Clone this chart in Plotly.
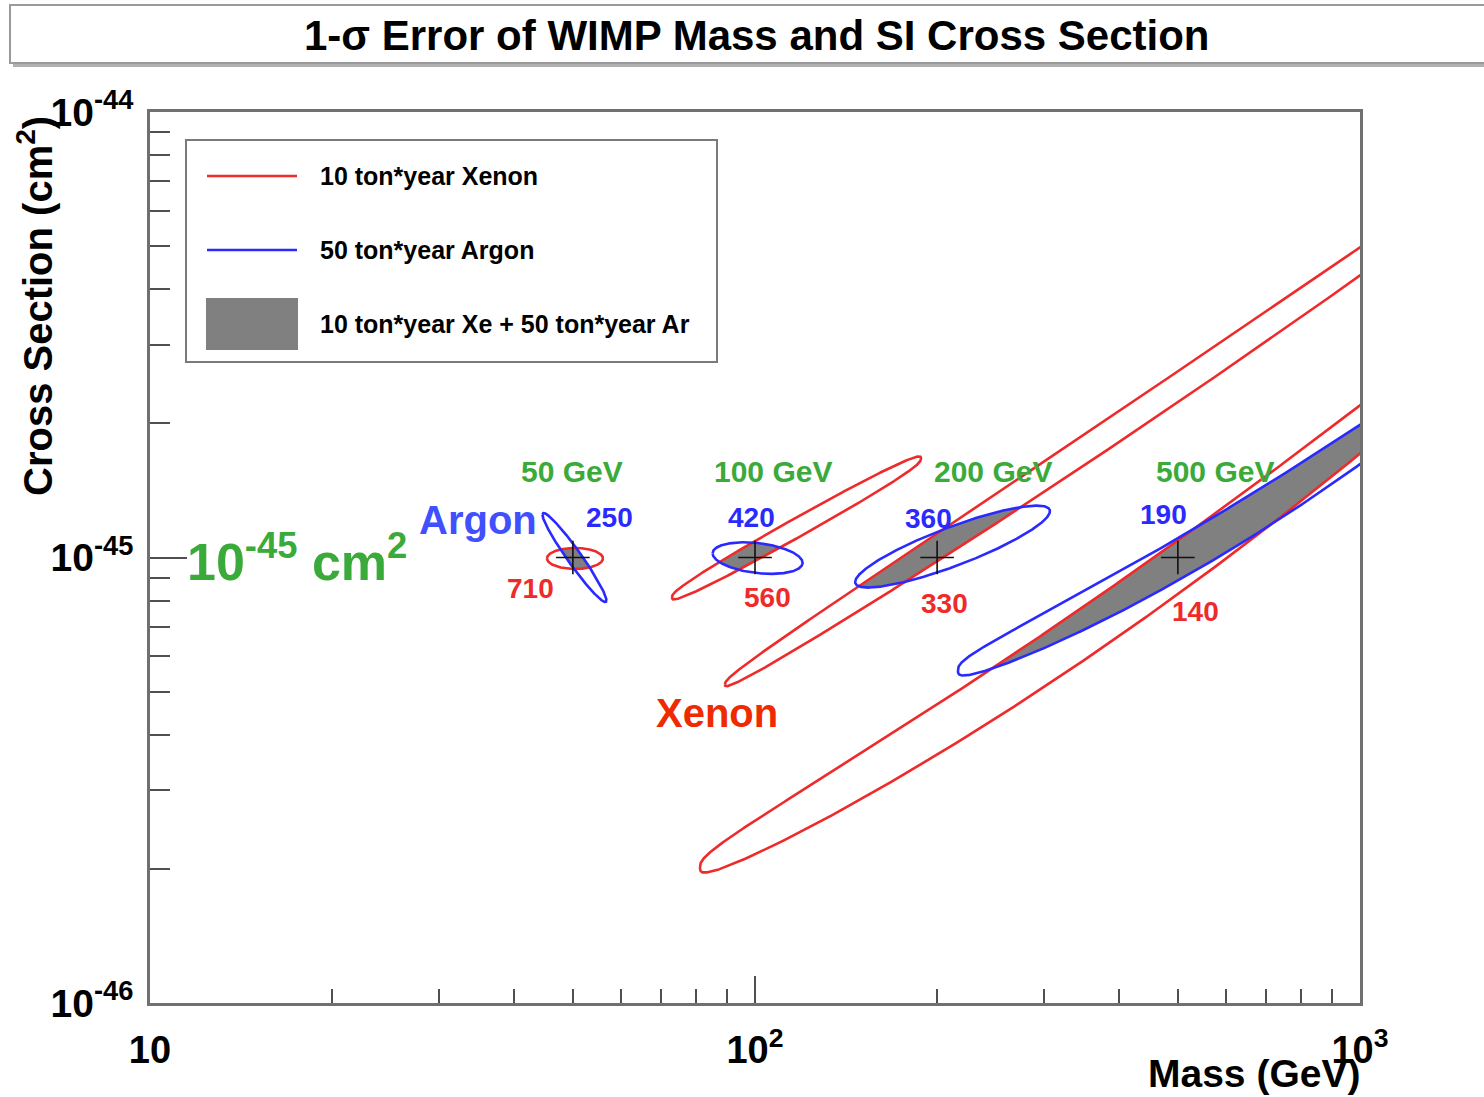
import numpy as np
import plotly.graph_objects as go

# ---------------------------------------------------------------------------
# Benchmark WIMP points: mass (GeV) and spin-independent cross section (cm^2)
true_mass = [50, 100, 200, 500]
true_xsec = [1e-45, 1e-45, 1e-45, 1e-45]

# 1-sigma contours, described in log10 space by a reference point, the spread
# in log10(mass), the spread in log10(xsec), their correlation, a shape
# exponent (0.5 = pure ellipse, smaller = fuller body) and a bend of the
# long axis (0 = straight), in decades of cross section
xe_center_mass = [50.4, 117.1, 449.6, 416.7]
xe_center_xsec = [0.995e-45, 1.165e-45, 2.294e-45, 0.960e-45]
xe_sig_logm = [0.0463, 0.2058, 0.7025, 0.7107]
xe_sig_logx = [0.0236, 0.1578, 0.6465, 0.6808]
xe_rho = [0.0, 0.9886, 0.99855, 0.99603]
xe_shape = [0.5, 0.35, 0.35, 0.33]
xe_bend = [0.0, 0.0, 0.0198, 0.0808]

ar_center_mass = [50.3, 101.0, 212.1, 609.7]
ar_center_xsec = [1.0e-45, 0.997e-45, 1.058e-45, 1.308e-45]
ar_sig_logm = [0.0529, 0.0744, 0.161, 0.4496]
ar_sig_logx = [0.0999, 0.0355, 0.092, 0.3735]
ar_rho = [-0.963, -0.3, 0.864, 0.99165]
ar_shape = [0.5, 0.5, 0.5, 0.33]
ar_bend = [0.0, 0.0, 0.0, 0.0519]

# Text labels attached to each benchmark
mass_labels = ["50 GeV", "100 GeV", "200 GeV", "500 GeV"]
ar_counts = ["250", "420", "360", "190"]
xe_counts = ["710", "560", "330", "140"]

# Where those labels sit (GeV, cm^2)
mass_label_mass = [49.8, 107.1, 247.5, 575.9]
mass_label_xsec = [1.56e-45] * 4
ar_count_mass = [57.4, 98.5, 193.9, 472.6]
ar_count_xsec = [1.23e-45, 1.23e-45, 1.223e-45, 1.249e-45]
xe_count_mass = [42.5, 104.7, 205.3, 533.8]
xe_count_xsec = [0.852e-45, 0.813e-45, 0.788e-45, 0.756e-45]

# Axis ticks
x_tickvals = [10, 100, 1000]
x_ticktext = ["10", "10<sup>2</sup>", "10<sup>3</sup>"]
x_minor = [20, 30, 40, 50, 60, 70, 80, 90, 200, 300, 400, 500, 600, 700, 800, 900]
y_tickvals = [1e-46, 1e-45, 1e-44]
y_ticktext = ["10<sup>-46</sup>", "10<sup>-45</sup>", "10<sup>-44</sup>"]
y_minor = [k * 1e-46 for k in range(2, 10)] + [k * 1e-45 for k in range(2, 10)]

RED = "#ee2a2a"
BLUE = "#2a2aff"
GREEN = "#3aaa3a"
GRAY = "#808080"
FONT = "Liberation Sans, Arial, sans-serif"


def make_band(mc, xc, su, sv, rho, q, bend):
    """Contour as lower/upper edges in log10(xsec) over log10(mass)."""
    u0, v0 = np.log10(mc), np.log10(xc)

    def edges(u):
        c = (u - u0) / su
        w = np.clip(1.0 - c ** 2, 0.0, None)
        mid = v0 + rho * sv * c - bend * w
        half = sv * np.sqrt(1.0 - rho ** 2) * w ** q
        return mid - half, mid + half

    return u0 - su, u0 + su, edges


def outline(band, n=500):
    lo_u, hi_u, edges = band
    th = np.linspace(0.0, np.pi, n)
    u = 0.5 * (lo_u + hi_u) - 0.5 * (hi_u - lo_u) * np.cos(th)
    lo, hi = edges(u)
    uu = np.concatenate([u, u[::-1], u[:1]])
    vv = np.concatenate([hi, lo[::-1], hi[:1]])
    return 10 ** uu, 10 ** vv


def overlap(b1, b2, n=4000):
    """Region inside both contours (both are single bands over mass)."""
    left, right = max(b1[0], b2[0]), min(b1[1], b2[1])
    if right <= left:
        return None
    u = np.linspace(left, right, n)
    lo1, hi1 = b1[2](u)
    lo2, hi2 = b2[2](u)
    lo, hi = np.maximum(lo1, lo2), np.minimum(hi1, hi2)
    idx = np.where(hi > lo)[0]
    if len(idx) < 2:
        return None
    sl = slice(idx[0], idx[-1] + 1)
    u, lo, hi = u[sl], lo[sl], hi[sl]
    uu = np.concatenate([u, u[::-1], u[:1]])
    vv = np.concatenate([hi, lo[::-1], hi[:1]])
    return 10 ** uu, 10 ** vv


xe_bands = [make_band(*p) for p in zip(xe_center_mass, xe_center_xsec, xe_sig_logm,
                                        xe_sig_logx, xe_rho, xe_shape, xe_bend)]
ar_bands = [make_band(*p) for p in zip(ar_center_mass, ar_center_xsec, ar_sig_logm,
                                        ar_sig_logx, ar_rho, ar_shape, ar_bend)]

fig = go.Figure()

# Combined Xe + Ar region (overlap of both 1-sigma contours)
for xe, ar in zip(xe_bands, ar_bands):
    both = overlap(xe, ar)
    if both is not None:
        fig.add_trace(go.Scatter(x=both[0], y=both[1], mode="lines", fill="toself",
                                 fillcolor=GRAY, line=dict(color=GRAY, width=0.5),
                                 name="10 ton*year Xe + 50 ton*year Ar",
                                 showlegend=False, hoverinfo="skip"))

for band in xe_bands:
    x, y = outline(band)
    fig.add_trace(go.Scatter(x=x, y=y, mode="lines", line=dict(color=RED, width=2.6),
                             name="10 ton*year Xenon", showlegend=False,
                             hoverinfo="skip"))

for band in ar_bands:
    x, y = outline(band)
    fig.add_trace(go.Scatter(x=x, y=y, mode="lines", line=dict(color=BLUE, width=2.6),
                             name="50 ton*year Argon", showlegend=False,
                             hoverinfo="skip"))

fig.add_trace(go.Scatter(x=true_mass, y=true_xsec, mode="markers",
                         marker=dict(symbol="cross-thin", size=24,
                                     line=dict(color="#111111", width=1.6)),
                         name="input", showlegend=False))

annotations = []


def label(m, xs, text, color, size):
    annotations.append(dict(x=np.log10(m), y=np.log10(xs), xref="x", yref="y",
                            text=text, showarrow=False,
                            font=dict(family=FONT, size=size, color=color, weight="bold"),
                            xanchor="center", yanchor="middle"))


for m, xs, t in zip(mass_label_mass, mass_label_xsec, mass_labels):
    label(m, xs, t, GREEN, 30)
for m, xs, t in zip(ar_count_mass, ar_count_xsec, ar_counts):
    label(m, xs, t, BLUE, 28)
for m, xs, t in zip(xe_count_mass, xe_count_xsec, xe_counts):
    label(m, xs, t, RED, 28)

label(34.8, 1.217e-45, "Argon", "#4050ff", 40)
label(86.5, 0.4466e-45, "Xenon", "#f02a00", 40)
label(17.5, 1.0e-45, "10<sup>-45</sup> cm<sup>2</sup>", GREEN, 52)

# Title, axis titles and legend text live in paper coordinates
W0, W1, H0, H1 = 150, 1360, 112, 1003


def px(xp):
    return (xp - W0) / (W1 - W0)


def py(yp):
    return (H1 - yp) / (H1 - H0)


def paper_text(xp, yp, text, size, color="black", xanchor="center", angle=0):
    annotations.append(dict(x=px(xp), y=py(yp), xref="paper", yref="paper", text=text,
                            showarrow=False, textangle=angle,
                            font=dict(family=FONT, size=size, color=color, weight="bold"),
                            xanchor=xanchor, yanchor="middle"))


paper_text(757, 35, "1-σ Error of WIMP Mass and SI Cross Section", 42)
paper_text(35, 306, "Cross Section (cm<sup>2</sup>)", 40, angle=-90)
paper_text(1362, 1073, "Mass (GeV)", 39, xanchor="right")

legend_entries = ["10 ton*year Xenon", "50 ton*year Argon", "10 ton*year Xe + 50 ton*year Ar"]
legend_rows = [176, 250, 324]
for txt, row in zip(legend_entries, legend_rows):
    paper_text(318, row, txt, 25, xanchor="left")

shapes = [
    # title box with drop shadow
    dict(type="rect", xref="paper", yref="paper", x0=px(13), x1=px(1500), y0=py(67), y1=py(9),
         fillcolor="#b0b0b0", line=dict(width=0), layer="below"),
    dict(type="rect", xref="paper", yref="paper", x0=px(10), x1=px(1497), y0=py(63), y1=py(5),
         fillcolor="white", line=dict(color="#9a9a9a", width=2), layer="below"),
    # legend frame and keys
    dict(type="rect", xref="paper", yref="paper", x0=px(186), x1=px(717), y0=py(362), y1=py(140),
         fillcolor="white", line=dict(color="#7a7a7a", width=2)),
    dict(type="line", xref="paper", yref="paper", x0=px(207), x1=px(297), y0=py(176), y1=py(176),
         line=dict(color=RED, width=2.6)),
    dict(type="line", xref="paper", yref="paper", x0=px(207), x1=px(297), y0=py(250), y1=py(250),
         line=dict(color=BLUE, width=2.6)),
    dict(type="rect", xref="paper", yref="paper", x0=px(206), x1=px(298), y0=py(350), y1=py(298),
         fillcolor=GRAY, line=dict(width=0)),
]

axis_common = dict(type="log", showgrid=False, zeroline=False, showline=True,
                   linecolor="#707070", linewidth=2.5, mirror=True, ticks="inside",
                   tickcolor="#505050", tickwidth=1.6)

fig.update_layout(
    width=1484, height=1097,
    margin=dict(l=W0, r=1484 - W1, t=H0, b=1097 - H1),
    paper_bgcolor="white", plot_bgcolor="white",
    showlegend=False,
    xaxis=dict(range=[1, 3], tickmode="array", tickvals=x_tickvals, ticktext=x_ticktext,
               ticklen=27, ticklabelstandoff=12,
               tickfont=dict(family=FONT, size=38, color="black", weight="bold"),
               minor=dict(tickmode="array", tickvals=x_minor, ticks="inside", ticklen=14,
                          tickcolor="#505050", tickwidth=1.6),
               **axis_common),
    yaxis=dict(range=[-46, -44], tickmode="array", tickvals=y_tickvals, ticktext=y_ticktext,
               ticklen=37, ticklabelstandoff=6,
               tickfont=dict(family=FONT, size=39, color="black", weight="bold"),
               minor=dict(tickmode="array", tickvals=y_minor, ticks="inside", ticklen=20,
                          tickcolor="#505050", tickwidth=1.6),
               **axis_common),
    annotations=annotations,
    shapes=shapes,
)

fig.write_html("out.html")
